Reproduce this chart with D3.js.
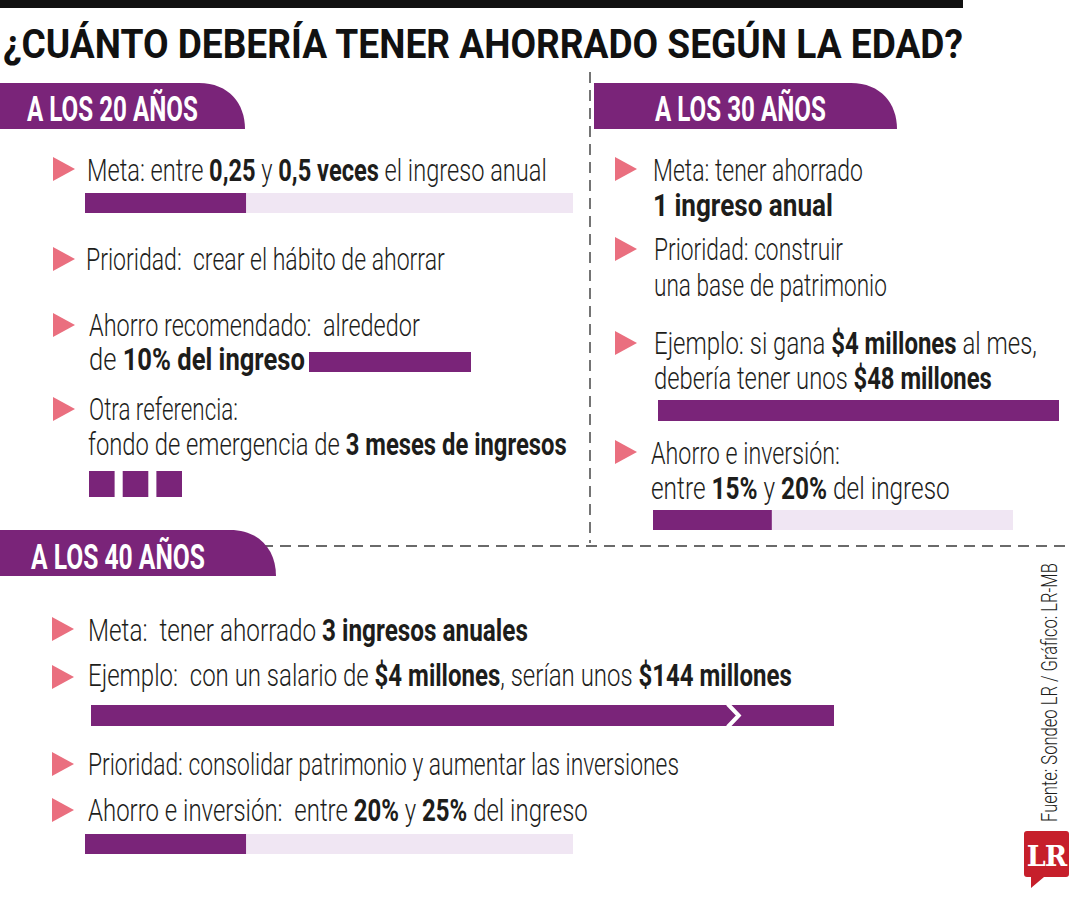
<!DOCTYPE html>
<html>
<head>
<meta charset="utf-8" />
<title>¿Cuánto debería tener ahorrado según la edad?</title>
<script src="https://d3js.org/d3.v7.min.js"></script>
<style>
  body { margin: 0; background: #fff; }
  svg text { font-family: Roboto, 'Noto Sans', sans-serif; white-space: pre; }
</style>
</head>
<body>
<svg id="chart" width="1080" height="900"></svg>
<script>
// ---- textos ----
var title = "¿CUÁNTO DEBERÍA TENER AHORRADO SEGÚN LA EDAD?";
var ages = ["A LOS 20 AÑOS", "A LOS 30 AÑOS", "A LOS 40 AÑOS"];
var items20 = [
  ["Meta: entre **0,25** y **0,5 veces** el ingreso anual"],
  ["Prioridad:  crear el hábito de ahorrar"],
  ["Ahorro recomendado:  alrededor", "de **10% del ingreso**"],
  ["Otra referencia:", "fondo de emergencia de **3 meses de ingresos**"]
];
var items30 = [
  ["Meta: tener ahorrado", "**1 ingreso anual**"],
  ["Prioridad: construir", "una base de patrimonio"],
  ["Ejemplo: si gana **$4 millones** al mes,", "debería tener unos **$48 millones**"],
  ["Ahorro e inversión:", "entre **15%** y **20%** del ingreso"]
];
var items40 = [
  ["Meta:  tener ahorrado **3 ingresos anuales**"],
  ["Ejemplo:  con un salario de **$4 millones**, serían unos **$144 millones**"],
  ["Prioridad: consolidar patrimonio y aumentar las inversiones"],
  ["Ahorro e inversión:  entre **20%** y **25%** del ingreso"]
];
var source = "Fuente: Sondeo LR / Gráfico: LR-MB";

// ---- valores de las barras ----
var rangeShare = [0.33, 0.33, 0.33];   // 20 años meta, 30 años inversión, 40 años inversión
var fullShare = [1, 1, 1];             // 10% del ingreso, $48 millones, $144 millones
var emergencyMonths = 3;

// ---- colores ----
var purple = "#7a2479", lilac = "#f0e6f3", pink = "#ea6f7f", ink = "#1d1d1b";

// ---- posiciones ----
// líneas de texto: [x, base, xFin]
var pos20 = [[[87,181,547]], [[86,270,445]], [[89,336,420],[89,370,305]], [[89,420,238],[88,455,567]]];
var pos30 = [[[653,181,863],[653,216,833]], [[654,260,843],[654,296,887]],
             [[654,354,1037],[654,389,992]], [[651,464,840],[651,499,950]]];
var pos40 = [[[88,641,528]], [[88,686,792]], [[88,775,679]], [[88,821,588]]];
var bul20 = [[53,157],[53,247],[53,313],[53,397]];
var bul30 = [[615,157],[615,237],[615,331],[615,440]];
var bul40 = [[52,617],[52,665],[52,752],[52,798]];
var tabs = [[0,83,245,129],[594,83,897,129],[0,530,276,576]];
var tabText = [[27,121,198],[655,121,826],[31,569,205]];
var rangeBox = [[85,193,573,20],[653,510,1013,20],[85,834,573,20]];
var fullBox = [[309,352,471,20],[658,400,1059,21],[91,705,834,21]];

var svg = d3.select("#chart");

// franja negra superior
svg.append("rect").attr("x", 0).attr("y", 0).attr("width", 963).attr("height", 8).attr("fill", "#111");

function fitText(x, y, x2, str, size, color, baseWeight) {
  var t = svg.append("text").attr("font-size", size).attr("fill", color);
  str.split("**").forEach(function(part, i) {
    if (!part) return;
    t.append("tspan").text(part).attr("font-weight", i % 2 ? 700 : baseWeight);
  });
  var w = t.node().getComputedTextLength();
  t.attr("transform", "translate(" + x + "," + y + ") scale(" + ((x2 - x) / w) + ",1)");
  return t;
}

// título
fitText(3, 58, 963, title, 40, "#111", 700);

// líneas punteadas
svg.append("line").attr("x1", 590).attr("x2", 590).attr("y1", 72).attr("y2", 543)
  .attr("stroke", "#3a3a3a").attr("stroke-width", 1.4).attr("stroke-dasharray", "11,7");
svg.append("line").attr("x1", 262).attr("x2", 1072).attr("y1", 546).attr("y2", 546)
  .attr("stroke", "#3a3a3a").attr("stroke-width", 1.4).attr("stroke-dasharray", "11,7");

// pestañas
tabs.forEach(function(b, i) {
  var r = b[3] - b[1];
  var p = d3.path();
  p.moveTo(b[0], b[1]);
  p.lineTo(b[2] - r, b[1]);
  p.bezierCurveTo(b[2] - r * 0.35, b[1], b[2], b[1] + r * 0.45, b[2], b[3]);
  p.lineTo(b[0], b[3]);
  p.closePath();
  svg.append("path").attr("d", p.toString()).attr("fill", purple);
  fitText(tabText[i][0], tabText[i][1], tabText[i][2], ages[i], 35, "#fff", 700);
});

// viñetas y textos
function drawItems(items, pos, bullets) {
  items.forEach(function(lines, i) {
    var b = bullets[i];
    svg.append("path")
      .attr("d", "M" + b[0] + "," + b[1] + "L" + (b[0] + 22) + "," + (b[1] + 12) + "L" + b[0] + "," + (b[1] + 24) + "Z")
      .attr("fill", pink);
    lines.forEach(function(line, j) {
      var p = pos[i][j];
      fitText(p[0], p[1], p[2], line, 31, ink, 300);
    });
  });
}
drawItems(items20, pos20, bul20);
drawItems(items30, pos30, bul30);
drawItems(items40, pos40, bul40);

// barras de rango (fondo lila, parte llena morada)
rangeShare.forEach(function(v, i) {
  var b = rangeBox[i];
  var x = d3.scaleLinear().domain([0, 1]).range([b[0], b[2]]);
  svg.append("rect").attr("x", x(0)).attr("y", b[1]).attr("width", x(1) - x(0)).attr("height", b[3]).attr("fill", lilac);
  svg.append("rect").attr("x", x(0)).attr("y", b[1]).attr("width", x(v) - x(0)).attr("height", b[3]).attr("fill", purple);
});

// barras completas
fullShare.forEach(function(v, i) {
  var b = fullBox[i];
  var x = d3.scaleLinear().domain([0, 1]).range([b[0], b[2]]);
  svg.append("rect").attr("x", x(0)).attr("y", b[1]).attr("width", x(v) - x(0)).attr("height", b[3]).attr("fill", purple);
});
// corte en la barra de $144 millones
var cut = d3.scaleLinear().domain([0, 1]).range([fullBox[2][0], fullBox[2][2]])(0.865);
svg.append("path")
  .attr("d", "M" + (cut - 6) + "," + (fullBox[2][1] - 1) + "L" + (cut + 5) + "," + (fullBox[2][1] + 10.5) + "L" + (cut - 6) + "," + (fullBox[2][1] + fullBox[2][3] + 1))
  .attr("fill", "none").attr("stroke", "#fff").attr("stroke-width", 4);

// fondo de emergencia: un cuadro por mes
var sq = d3.scaleBand().domain(d3.range(emergencyMonths)).range([89, 182]).paddingInner(0.24);
svg.selectAll("rect.month").data(d3.range(emergencyMonths)).enter().append("rect")
  .attr("class", "month")
  .attr("x", function(d) { return sq(d); })
  .attr("y", 471).attr("width", sq.bandwidth()).attr("height", 26).attr("fill", purple);

// fuente vertical
var src = svg.append("text").attr("font-size", 22).attr("fill", ink).attr("font-weight", 300).text(source);
var sw = src.node().getComputedTextLength();
src.attr("transform", "translate(1057,822) rotate(-90) scale(" + (259 / sw) + ",1)");

// logo LR
svg.append("path")
  .attr("d", "M1027,831H1066Q1069,831 1069,834V874Q1069,877 1066,877H1044L1031,888V877H1027Q1024,877 1024,874V834Q1024,831 1027,831Z")
  .attr("fill", "#c61f2b");
svg.append("text").attr("x", 1046.5).attr("y", 866).attr("text-anchor", "middle")
  .style("font-family", "'DejaVu Serif', 'Liberation Serif', serif")
  .attr("font-size", 27).attr("font-weight", 700).attr("fill", "#fff").attr("letter-spacing", -1).text("LR");
</script>
</body>
</html>
